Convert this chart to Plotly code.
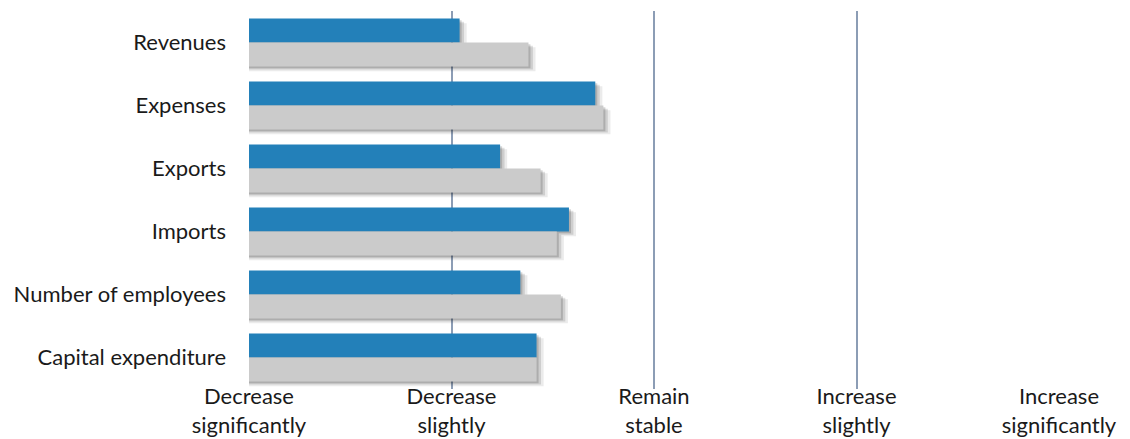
import plotly.graph_objects as go

categories = ["Revenues", "Expenses", "Exports", "Imports", "Number of employees", "Capital expenditure"]
series_a = [2.04, 2.71, 2.24, 2.58, 2.34, 2.42]
series_b = [2.38, 2.75, 2.44, 2.52, 2.54, 2.42]
tick_vals = [1, 2, 3, 4, 5]
tick_labels = ["Decrease<br>significantly", "Decrease<br>slightly", "Remain<br>stable",
               "Increase<br>slightly", "Increase<br>significantly"]

BLUE = "#2380b9"
GRAY = "#cbcbcb"
W = 0.38
BASE = 1

fig = go.Figure()

# soft shadows (layers)
for dx, dy, alpha in [(0.035, 0.075, 0.08), (0.022, 0.05, 0.12), (0.01, 0.028, 0.16)]:
    for vals, off in [(series_a, -W), (series_b, 0)]:
        fig.add_trace(go.Bar(
            y=categories, x=[v - BASE + dx for v in vals], base=BASE, orientation="h",
            offset=off + dy, width=W, marker=dict(color=f"rgba(0,0,0,{alpha})", line=dict(width=0)),
            hoverinfo="skip", showlegend=False))

fig.add_trace(go.Bar(y=categories, x=[v - BASE for v in series_a], base=BASE, orientation="h",
                     offset=-W, width=W, marker=dict(color=BLUE, line=dict(width=0)),
                     showlegend=False, name="A"))
fig.add_trace(go.Bar(y=categories, x=[v - BASE for v in series_b], base=BASE, orientation="h",
                     offset=0, width=W, marker=dict(color=GRAY, line=dict(width=0)),
                     showlegend=False, name="B"))

fig.update_layout(
    width=1130, height=439,
    margin=dict(l=249, r=71, t=11, b=50),
    barmode="overlay",
    plot_bgcolor="white", paper_bgcolor="white",
    font=dict(family="Lato, Open Sans, sans-serif", size=22, color="#1a1a1a"),
    showlegend=False,
)
fig.update_xaxes(range=[1, 5], tickvals=tick_vals, ticktext=tick_labels,
                 showgrid=True, gridcolor="#8c9db5", gridwidth=1.5, zeroline=False,
                 showline=False, ticks="", ticklen=0, ticklabelstandoff=-8, automargin=False)
fig.update_yaxes(autorange="reversed", showgrid=False, ticks="", ticklabelstandoff=22,
                 showline=False, automargin=False)

fig.write_html("out.html")
